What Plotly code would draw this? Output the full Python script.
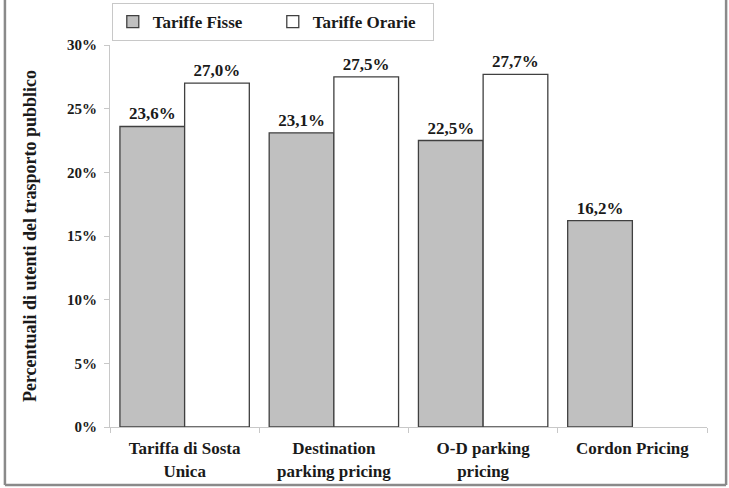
import plotly.graph_objects as go

categories = ["Tariffa di Sosta<br>Unica", "Destination<br>parking pricing", "O-D parking<br>pricing", "Cordon Pricing"]
tariffe_fisse = [23.6, 23.1, 22.5, 16.2]
tariffe_orarie = [27.0, 27.5, 27.7, None]
y_ticks = [0, 5, 10, 15, 20, 25, 30]
y_tick_text = [f"{v}%" for v in y_ticks]

font_family = "Liberation Serif, Times New Roman, serif"
text_color = "#1a1a1a"

fig = go.Figure()
fig.add_trace(go.Bar(
    x=categories, y=tariffe_fisse, name="Tariffe Fisse",
    marker=dict(color="#c0c0c0", line=dict(color="#404040", width=1.3)),
    texttemplate="%{y:.1f}%", textposition="outside",
    textfont=dict(size=17, color=text_color, family=font_family, weight="bold"),
    cliponaxis=False,
))
fig.add_trace(go.Bar(
    x=categories, y=tariffe_orarie, name="Tariffe Orarie",
    marker=dict(color="#ffffff", line=dict(color="#404040", width=1.3)),
    texttemplate="%{y:.1f}%", textposition="outside",
    textfont=dict(size=17, color=text_color, family=font_family, weight="bold"),
    cliponaxis=False,
))

frame = dict(color="#8a8a8a", width=2.5)
fig.update_layout(
    width=729, height=488,
    margin=dict(l=110, r=22, t=45, b=61, autoexpand=False),
    paper_bgcolor="white", plot_bgcolor="white",
    separators=",.",
    barmode="group", bargap=0.133, bargroupgap=0,
    font=dict(family=font_family, color=text_color),
    showlegend=True,
    legend=dict(
        orientation="h", x=0.003, y=1.11, xanchor="left", yanchor="top",
        bordercolor="#c8c8c8", borderwidth=1, bgcolor="white",
        font=dict(size=17, family=font_family, color=text_color, weight="bold"),
        itemwidth=30, traceorder="normal",
        entrywidth=115, entrywidthmode="pixels",
    ),
    xaxis=dict(
        showline=True, linecolor="#c8c8c8", linewidth=1,
        ticks="outside", tickson="boundaries", tickcolor="#c8c8c8", ticklen=5,
        tickfont=dict(size=17, family=font_family, color=text_color, weight="bold"),
        ticklabelstandoff=6,
        showgrid=False, automargin=False,
    ),
    yaxis=dict(
        range=[0, 30], tickvals=y_ticks, ticktext=y_tick_text,
        showline=True, linecolor="#c8c8c8", linewidth=1,
        ticks="outside", tickcolor="#c8c8c8", ticklen=5,
        tickfont=dict(size=15, family=font_family, color=text_color, weight="bold"),
        ticklabelstandoff=4,
        showgrid=False, zeroline=False, automargin=False,
        title=dict(text="Percentuali di utenti del trasporto pubblico",
                   font=dict(size=18, family=font_family, color=text_color, weight="bold"),
                   standoff=25),
    ),
    shapes=[
        dict(type="line", xref="paper", yref="paper", x0=-0.176, x1=-0.176, y0=-0.152, y1=1.3, line=frame),
        dict(type="line", xref="paper", yref="paper", x0=1.032, x1=1.032, y0=-0.152, y1=1.3, line=frame),
        dict(type="line", xref="paper", yref="paper", x0=-0.176, x1=1.032, y0=-0.152, y1=-0.152, line=frame),
    ],
)

fig.write_html("out.html", config={"displayModeBar": False},
               post_script="document.body.style.margin='0px';")
